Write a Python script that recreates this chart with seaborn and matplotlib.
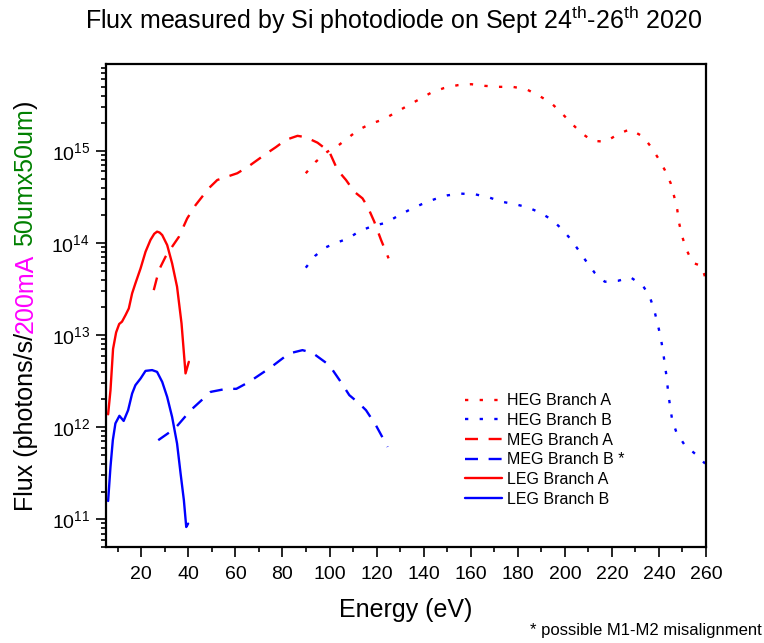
import numpy as np
import pandas as pd
import matplotlib
matplotlib.use("Agg")
import matplotlib.pyplot as plt
import seaborn as sns
from matplotlib.ticker import MultipleLocator, LogLocator, LogFormatterSciNotation, NullFormatter

# ---- measured flux curves (energy in eV, flux in photons/s) ----
heg_a_energy = [89.9, 94.2, 99.1, 103.4, 107.6, 112.2, 117.2, 123.0, 128.0, 133.0,
                138.2, 143.3, 148.5, 154.4, 160.2, 166.2, 171.8, 177.8, 183.6, 189.0,
                194.3, 198.7, 202.8, 207.1, 211.7, 217.3, 222.6, 227.6, 233.3, 236.6,
                239.7, 242.5, 245.0, 246.5, 247.8, 248.6, 249.9, 251.8, 254.3, 258.2, 260.0]
heg_a_flux = [5.73e14, 7.66e14, 9.82e14, 1.13e15, 1.37e15, 1.69e15, 1.96e15, 2.21e15, 2.61e15, 3.08e15,
              3.65e15, 4.31e15, 4.81e15, 5.18e15, 5.31e15, 5.09e15, 4.97e15, 4.97e15, 4.69e15, 3.99e15,
              3.30e15, 2.57e15, 2.00e15, 1.56e15, 1.29e15, 1.26e15, 1.52e15, 1.72e15, 1.43e15, 1.11e15,
              8.34e14, 6.21e14, 4.46e14, 3.18e14, 2.29e14, 1.64e14, 1.17e14, 8.39e13, 6.11e13, 5.62e13, 3.96e13]

heg_b_energy = [89.9, 93.8, 98.0, 103.0, 107.9, 112.8, 118.3, 124.0, 128.9, 133.9,
                139.3, 144.6, 150.2, 155.9, 161.9, 167.6, 173.2, 178.9, 184.3, 189.8,
                194.8, 198.8, 202.8, 206.0, 209.2, 212.7, 217.0, 222.6, 228.0, 233.3,
                236.1, 238.0, 239.4, 240.7, 241.7, 242.5, 243.3, 243.9, 244.7, 245.6,
                247.5, 251.0, 255.6, 259.6]
heg_b_flux = [5.40e13, 7.23e13, 8.89e13, 1.01e14, 1.12e14, 1.35e14, 1.53e14, 1.66e14, 1.96e14, 2.29e14,
              2.65e14, 2.99e14, 3.30e14, 3.44e14, 3.38e14, 3.14e14, 2.81e14, 2.64e14, 2.44e14, 2.12e14,
              1.77e14, 1.41e14, 1.08e14, 8.24e13, 6.27e13, 4.75e13, 3.80e13, 3.89e13, 4.24e13, 3.41e13,
              2.61e13, 1.87e13, 1.34e13, 9.60e12, 6.75e12, 4.84e12, 3.44e12, 2.42e12, 1.71e12, 1.21e12,
              8.67e11, 6.37e11, 5.09e11, 4.03e11]

meg_a_energy = [25.3, 27.5, 30.3, 33.1, 36.0, 39.5, 43.1, 48.7, 52.3, 56.5, 60.8, 65.8, 72.9,
                77.2, 81.4, 86.4, 89.9, 94.9, 99.9, 103.4, 107.0, 110.5, 114.0, 116.2, 119.0,
                121.9, 125.1]
meg_a_flux = [3.08e13, 5.09e13, 7.10e13, 9.12e13, 1.17e14, 1.85e14, 2.59e14, 3.94e14, 4.84e14, 5.26e14,
              5.73e14, 6.87e14, 9.27e14, 1.10e15, 1.32e15, 1.46e15, 1.41e15, 1.23e15, 9.82e14, 6.21e14,
              4.84e14, 3.61e14, 3.06e14, 2.48e14, 1.71e14, 1.08e14, 6.82e13]

meg_b_energy = [27.2, 34.3, 41.0, 49.5, 56.1, 60.4, 65.8, 75.0, 82.8, 88.5, 92.7, 99.9,
                104.8, 108.4, 112.6, 115.5, 119.7, 124.7]
meg_b_flux = [7.23e11, 9.68e11, 1.53e12, 2.42e12, 2.61e12, 2.61e12, 3.10e12, 4.46e12, 6.32e12,
              6.87e12, 6.43e12, 4.72e12, 3.10e12, 2.23e12, 1.81e12, 1.53e12, 1.05e12, 6.11e11]

leg_a_energy = [5.9, 6.9, 8.0, 9.3, 10.6, 11.8, 13.3, 14.7, 16.1, 17.5, 19.7, 21.8, 23.9,
                25.5, 26.7, 27.8, 28.9, 31.0, 33.1, 35.2, 37.1, 38.8, 40.2]
leg_a_flux = [1.38e12, 2.51e12, 7.08e12, 1.07e13, 1.32e13, 1.40e13, 1.65e13, 1.95e13, 2.84e13,
              3.65e13, 5.31e13, 8.04e13, 1.08e14, 1.26e14, 1.33e14, 1.30e14, 1.22e14, 9.51e13,
              6.01e13, 3.35e13, 1.34e13, 3.84e12, 5.13e12]

leg_b_energy = [5.9, 6.9, 7.9, 9.0, 10.7, 12.5, 14.4, 16.1, 17.5, 19.7, 21.8, 24.6, 26.7,
                28.9, 31.0, 33.1, 35.2, 36.7, 38.1, 39.1, 39.9]
leg_b_flux = [1.58e11, 3.70e11, 7.23e11, 1.10e12, 1.33e12, 1.17e12, 1.53e12, 2.32e12, 2.86e12,
              3.38e12, 4.09e12, 4.17e12, 3.99e12, 3.10e12, 2.13e12, 1.29e12, 6.65e11, 3.14e11,
              1.61e11, 8.24e10, 8.97e10]

series_names = ["HEG Branch A", "HEG Branch B", "MEG Branch A", "MEG Branch B *",
                "LEG Branch A", "LEG Branch B"]
series_energy = [heg_a_energy, heg_b_energy, meg_a_energy, meg_b_energy, leg_a_energy, leg_b_energy]
series_flux = [heg_a_flux, heg_b_flux, meg_a_flux, meg_b_flux, leg_a_flux, leg_b_flux]

# ---- styling ----
RED, BLUE = "#FF0000", "#0000FF"
dotted = (0, (1.4, 4.8))
dashed = (0, (5.5, 4.5))
series_color = [RED, BLUE, RED, BLUE, RED, BLUE]
series_ls = [dotted, dotted, dashed, dashed, "-", "-"]

sns.set_theme(style="ticks")
plt.rcParams["font.family"] = ["Liberation Sans", "DejaVu Sans"]
plt.rcParams["mathtext.fontset"] = "custom"
plt.rcParams["mathtext.rm"] = "Liberation Sans"
plt.rcParams["mathtext.it"] = "Liberation Sans:italic"
plt.rcParams["mathtext.bf"] = "Liberation Sans:bold"
plt.rcParams["text.color"] = "black"
plt.rcParams["axes.labelcolor"] = "black"
plt.rcParams["xtick.color"] = "black"
plt.rcParams["ytick.color"] = "black"

W, H = 764, 643
fig = plt.figure(figsize=(W / 100, H / 100), dpi=100)
ax = fig.add_axes([106 / W, 1 - 547 / H, 600 / W, 483 / H])

frames = [pd.DataFrame({"energy": e, "flux": f, "series": n})
          for n, e, f in zip(series_names, series_energy, series_flux)]
data = pd.concat(frames, ignore_index=True)

for name, color, ls in zip(series_names, series_color, series_ls):
    sub = data[data["series"] == name]
    sns.lineplot(data=sub, x="energy", y="flux", ax=ax, color=color, linestyle=ls,
                 linewidth=1.7, estimator=None, sort=False, label=name)

ax.set_yscale("log")
ax.set_xlim(5, 260)
ax.set_ylim(5e10, 8.8e15)

ax.xaxis.set_major_locator(MultipleLocator(20))
ax.xaxis.set_minor_locator(MultipleLocator(10))
ax.yaxis.set_major_locator(LogLocator(base=10, numticks=20))
ax.yaxis.set_minor_locator(LogLocator(base=10, subs=np.arange(2, 10), numticks=20))
ax.yaxis.set_major_formatter(LogFormatterSciNotation())
ax.yaxis.set_minor_formatter(NullFormatter())

for sp in ax.spines.values():
    sp.set_visible(True)
    sp.set_linewidth(1.6)
    sp.set_color("black")
ax.tick_params(axis="both", which="major", direction="out", length=7.5, width=1.2,
               colors="black", labelsize=14)
ax.tick_params(axis="both", which="minor", direction="out", length=3.8, width=1.2, colors="black")
ax.tick_params(axis="x", which="major", pad=6.5)
ax.tick_params(axis="y", which="major", pad=4)
ax.tick_params(top=False, right=False, which="both")
ax.grid(False)

ax.set_xlabel("Energy (eV)", fontsize=18, color="black")
ax.xaxis.set_label_coords(0.5, (547 - 610) / 483)
ax.xaxis.label.set_verticalalignment("center")
ax.set_ylabel("")

leg = ax.legend(loc="upper left", bbox_to_anchor=(0.598, 0.318), frameon=False, fontsize=11.5,
                handlelength=2.3, handletextpad=0.35, labelspacing=0.29, borderpad=0,
                borderaxespad=0)
for txt in leg.get_texts():
    txt.set_color("black")

fig.text(394 / W, 1 - 29.5 / H,
         r"Flux measured by Si photodiode on Sept 24$^{\rm th}$-26$^{\rm th}$ 2020",
         ha="center", va="baseline", fontsize=18, color="black")

fig.text(0.997, 1 - 630 / H, "* possible M1-M2 misalignment",
         ha="right", va="center", fontsize=12, color="black")

# multi-coloured vertical axis title, built piece by piece along one baseline
fig.canvas.draw()
renderer = fig.canvas.get_renderer()
label_parts = [("Flux (photons/s/", "black"), ("200mA", "#FF00FF"),
               ("50umx50um", "#008000"), (")", "black")]
gap_before = [0, 0, 1, 0]
label_size = 18
baseline_x = 32.5 / W


def measure(s):
    t = fig.text(0, 0, s, fontsize=label_size)
    w = t.get_window_extent(renderer).width
    t.remove()
    return w


space_w = measure("x x") - measure("xx")
widths = [measure(s) for s, _ in label_parts]
total = sum(widths) + space_w * sum(gap_before)
y_pix = (H - 305.5) - total / 2
for (s, c), w, g in zip(label_parts, widths, gap_before):
    y_pix += g * space_w
    fig.text(baseline_x, y_pix / H, s, color=c, fontsize=label_size, rotation=90,
             rotation_mode="anchor", ha="left", va="baseline")
    y_pix += w

fig.savefig("out.png", dpi=100)
